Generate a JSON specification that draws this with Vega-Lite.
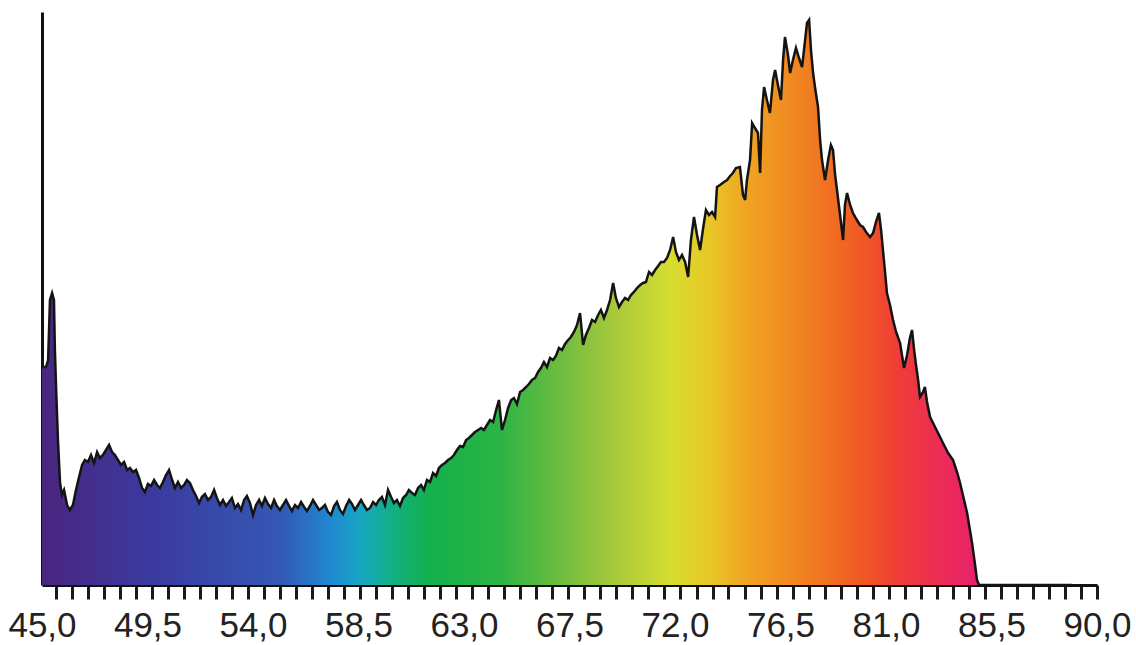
{
  "$schema": "https://vega.github.io/schema/vega-lite/v6.json",
  "width": 1055,
  "height": 573,
  "autosize": {"type": "none"},
  "padding": {"left": 42, "top": 12, "right": 39, "bottom": 60},
  "background": "white",
  "config": {"view": {"stroke": null}},
  "data": {"values": [
    {"x":45.00,"y":218},{"x":45.04,"y":218},{"x":45.17,"y":218},{"x":45.26,"y":225},{"x":45.34,"y":285},{"x":45.43,"y":292},{"x":45.51,"y":285},{"x":45.55,"y":235},{"x":45.60,"y":198},{"x":45.68,"y":145},{"x":45.77,"y":102},{"x":45.85,"y":90},{"x":45.94,"y":95},{"x":46.07,"y":80},{"x":46.19,"y":75},{"x":46.32,"y":80},{"x":46.45,"y":95},{"x":46.58,"y":108},{"x":46.71,"y":120},{"x":46.83,"y":125},{"x":46.96,"y":123},{"x":47.09,"y":130},{"x":47.22,"y":122},{"x":47.35,"y":133},{"x":47.47,"y":127},{"x":47.60,"y":130},{"x":47.73,"y":135},{"x":47.86,"y":140},{"x":47.99,"y":133},{"x":48.11,"y":130},{"x":48.24,"y":125},{"x":48.37,"y":120},{"x":48.50,"y":123},{"x":48.63,"y":115},{"x":48.75,"y":117},{"x":48.88,"y":113},{"x":49.01,"y":115},{"x":49.14,"y":107},{"x":49.27,"y":97},{"x":49.39,"y":93},{"x":49.52,"y":101},{"x":49.65,"y":99},{"x":49.78,"y":105},{"x":49.91,"y":100},{"x":50.03,"y":97},{"x":50.16,"y":103},{"x":50.29,"y":110},{"x":50.42,"y":115},{"x":50.55,"y":105},{"x":50.67,"y":97},{"x":50.80,"y":103},{"x":50.93,"y":97},{"x":51.06,"y":100},{"x":51.18,"y":105},{"x":51.31,"y":102},{"x":51.44,"y":95},{"x":51.57,"y":89},{"x":51.70,"y":82},{"x":51.82,"y":88},{"x":51.95,"y":91},{"x":52.08,"y":85},{"x":52.21,"y":88},{"x":52.34,"y":95},{"x":52.46,"y":87},{"x":52.59,"y":80},{"x":52.72,"y":85},{"x":52.85,"y":79},{"x":52.98,"y":83},{"x":53.10,"y":87},{"x":53.23,"y":77},{"x":53.36,"y":81},{"x":53.49,"y":75},{"x":53.62,"y":85},{"x":53.74,"y":89},{"x":53.87,"y":82},{"x":54.00,"y":70},{"x":54.13,"y":80},{"x":54.26,"y":85},{"x":54.38,"y":79},{"x":54.51,"y":87},{"x":54.64,"y":81},{"x":54.77,"y":77},{"x":54.90,"y":85},{"x":55.02,"y":79},{"x":55.15,"y":75},{"x":55.28,"y":80},{"x":55.41,"y":85},{"x":55.54,"y":79},{"x":55.66,"y":74},{"x":55.79,"y":80},{"x":55.92,"y":77},{"x":56.05,"y":83},{"x":56.18,"y":78},{"x":56.30,"y":74},{"x":56.43,"y":79},{"x":56.56,"y":85},{"x":56.69,"y":80},{"x":56.82,"y":75},{"x":56.94,"y":77},{"x":57.07,"y":80},{"x":57.20,"y":73},{"x":57.33,"y":70},{"x":57.46,"y":79},{"x":57.58,"y":83},{"x":57.71,"y":75},{"x":57.84,"y":71},{"x":57.97,"y":79},{"x":58.10,"y":85},{"x":58.22,"y":81},{"x":58.35,"y":75},{"x":58.48,"y":80},{"x":58.61,"y":85},{"x":58.73,"y":80},{"x":58.86,"y":75},{"x":58.99,"y":77},{"x":59.12,"y":83},{"x":59.25,"y":80},{"x":59.37,"y":85},{"x":59.50,"y":88},{"x":59.63,"y":80},{"x":59.76,"y":95},{"x":59.89,"y":88},{"x":60.01,"y":82},{"x":60.14,"y":85},{"x":60.27,"y":79},{"x":60.40,"y":87},{"x":60.53,"y":90},{"x":60.65,"y":95},{"x":60.78,"y":92},{"x":60.91,"y":90},{"x":61.04,"y":97},{"x":61.17,"y":100},{"x":61.29,"y":95},{"x":61.42,"y":105},{"x":61.55,"y":103},{"x":61.68,"y":112},{"x":61.81,"y":109},{"x":61.93,"y":117},{"x":62.06,"y":120},{"x":62.19,"y":122},{"x":62.32,"y":125},{"x":62.45,"y":127},{"x":62.57,"y":130},{"x":62.70,"y":135},{"x":62.83,"y":139},{"x":62.96,"y":138},{"x":63.09,"y":145},{"x":63.21,"y":147},{"x":63.34,"y":150},{"x":63.47,"y":153},{"x":63.60,"y":155},{"x":63.73,"y":157},{"x":63.85,"y":155},{"x":63.98,"y":160},{"x":64.11,"y":165},{"x":64.24,"y":163},{"x":64.37,"y":175},{"x":64.49,"y":185},{"x":64.62,"y":155},{"x":64.75,"y":165},{"x":64.88,"y":177},{"x":65.01,"y":185},{"x":65.13,"y":187},{"x":65.26,"y":181},{"x":65.39,"y":193},{"x":65.52,"y":195},{"x":65.65,"y":198},{"x":65.77,"y":201},{"x":65.90,"y":205},{"x":66.03,"y":207},{"x":66.16,"y":213},{"x":66.28,"y":217},{"x":66.41,"y":223},{"x":66.54,"y":218},{"x":66.67,"y":227},{"x":66.80,"y":225},{"x":66.92,"y":229},{"x":67.05,"y":237},{"x":67.18,"y":235},{"x":67.31,"y":241},{"x":67.44,"y":245},{"x":67.56,"y":248},{"x":67.69,"y":253},{"x":67.82,"y":260},{"x":67.95,"y":272},{"x":68.08,"y":240},{"x":68.20,"y":250},{"x":68.33,"y":257},{"x":68.46,"y":265},{"x":68.59,"y":263},{"x":68.72,"y":270},{"x":68.84,"y":275},{"x":68.97,"y":267},{"x":69.10,"y":275},{"x":69.23,"y":285},{"x":69.36,"y":302},{"x":69.48,"y":287},{"x":69.61,"y":278},{"x":69.74,"y":283},{"x":69.87,"y":287},{"x":70.00,"y":285},{"x":70.12,"y":290},{"x":70.25,"y":293},{"x":70.38,"y":297},{"x":70.51,"y":300},{"x":70.64,"y":302},{"x":70.76,"y":303},{"x":70.89,"y":313},{"x":71.02,"y":310},{"x":71.15,"y":315},{"x":71.28,"y":319},{"x":71.40,"y":323},{"x":71.53,"y":323},{"x":71.66,"y":327},{"x":71.79,"y":335},{"x":71.92,"y":348},{"x":72.04,"y":333},{"x":72.17,"y":325},{"x":72.30,"y":330},{"x":72.43,"y":323},{"x":72.56,"y":308},{"x":72.68,"y":345},{"x":72.81,"y":368},{"x":72.94,"y":350},{"x":73.07,"y":335},{"x":73.20,"y":357},{"x":73.32,"y":375},{"x":73.45,"y":370},{"x":73.58,"y":373},{"x":73.71,"y":368},{"x":73.79,"y":398},{"x":73.92,"y":400},{"x":74.09,"y":403},{"x":74.22,"y":405},{"x":74.35,"y":409},{"x":74.47,"y":412},{"x":74.60,"y":417},{"x":74.77,"y":418},{"x":74.90,"y":390},{"x":74.99,"y":385},{"x":75.07,"y":405},{"x":75.20,"y":425},{"x":75.29,"y":462},{"x":75.41,"y":457},{"x":75.54,"y":452},{"x":75.63,"y":412},{"x":75.71,"y":475},{"x":75.80,"y":498},{"x":75.92,"y":485},{"x":76.05,"y":472},{"x":76.18,"y":505},{"x":76.27,"y":515},{"x":76.39,"y":500},{"x":76.52,"y":485},{"x":76.61,"y":525},{"x":76.69,"y":548},{"x":76.82,"y":530},{"x":76.91,"y":512},{"x":77.03,"y":525},{"x":77.16,"y":537},{"x":77.29,"y":527},{"x":77.42,"y":518},{"x":77.55,"y":545},{"x":77.63,"y":562},{"x":77.72,"y":565},{"x":77.80,"y":535},{"x":77.89,"y":512},{"x":77.97,"y":498},{"x":78.10,"y":478},{"x":78.19,"y":445},{"x":78.27,"y":425},{"x":78.40,"y":405},{"x":78.53,"y":425},{"x":78.65,"y":440},{"x":78.74,"y":435},{"x":78.83,"y":410},{"x":78.91,"y":395},{"x":79.04,"y":370},{"x":79.17,"y":345},{"x":79.25,"y":380},{"x":79.34,"y":392},{"x":79.47,"y":380},{"x":79.59,"y":372},{"x":79.76,"y":365},{"x":79.89,"y":360},{"x":80.02,"y":358},{"x":80.15,"y":353},{"x":80.32,"y":348},{"x":80.45,"y":352},{"x":80.57,"y":363},{"x":80.70,"y":372},{"x":80.79,"y":355},{"x":80.87,"y":335},{"x":80.96,"y":313},{"x":81.04,"y":292},{"x":81.17,"y":280},{"x":81.30,"y":265},{"x":81.43,"y":253},{"x":81.60,"y":242},{"x":81.68,"y":230},{"x":81.77,"y":217},{"x":81.90,"y":230},{"x":82.02,"y":247},{"x":82.11,"y":255},{"x":82.20,"y":235},{"x":82.28,"y":220},{"x":82.37,"y":205},{"x":82.45,"y":188},{"x":82.58,"y":193},{"x":82.66,"y":198},{"x":82.75,"y":183},{"x":82.88,"y":168},{"x":83.05,"y":160},{"x":83.22,"y":152},{"x":83.43,"y":142},{"x":83.65,"y":132},{"x":83.86,"y":125},{"x":84.03,"y":113},{"x":84.16,"y":102},{"x":84.33,"y":85},{"x":84.46,"y":72},{"x":84.58,"y":55},{"x":84.67,"y":42},{"x":84.80,"y":20},{"x":84.88,"y":5},{"x":84.97,"y":0},{"x":85.50,"y":0},{"x":88.93,"y":0}
  ]},
  "encoding": {
    "x": {
      "field": "x",
      "type": "quantitative",
      "scale": {"domain": [45, 90], "nice": false, "zero": false},
      "axis": {
        "title": null,
        "grid": false,
        "values": [45, 49.5, 54, 58.5, 63, 67.5, 72, 76.5, 81, 85.5, 90.00, 89.32, 88.63, 87.95, 87.27, 86.58, 85.90, 85.22, 84.53, 83.85, 83.17, 82.48, 81.80, 81.12, 80.43, 79.75, 79.07, 78.38, 77.70, 77.02, 76.33, 75.65, 74.97, 74.28, 73.60, 72.92, 72.23, 71.55, 70.86, 70.18, 69.50, 68.81, 68.13, 67.45, 66.76, 66.08, 65.40, 64.71, 64.03, 63.35, 62.66, 61.98, 61.30, 60.61, 59.93, 59.25, 58.56, 57.88, 57.20, 56.51, 55.83, 55.15, 54.46, 53.78, 53.10, 52.41, 51.73, 51.05, 50.36, 49.68, 49.00, 48.31, 47.63, 46.95, 46.26, 45.58],
        "domainColor": "#111111",
        "domainWidth": 3,
        "tickColor": "#1a1a1a",
        "tickWidth": 3,
        "tickSize": 14,
        "tickOpacity": {"condition": {"test": "abs(datum.value/4.5 - round(datum.value/4.5)) < 0.001 && datum.value < 89.9", "value": 0}, "value": 1},
        "labelExpr": "abs(datum.value/4.5 - round(datum.value/4.5)) < 0.001 ? replace(format(datum.value, '.1f'), '.', ',') : ''",
        "labelFont": "Liberation Sans",
        "labelFontSize": 35,
        "labelColor": "#222222",
        "labelPadding": 9,
        "labelOverlap": false,
        "labelFlush": false,
        "labelBound": false
      }
    },
    "y": {
      "field": "y",
      "type": "quantitative",
      "scale": {"domain": [0, 573], "nice": false},
      "axis": {"title": null, "grid": false, "ticks": false, "labels": false, "domainColor": "#111111", "domainWidth": 3}
    }
  },
  "layer": [
    {
      "mark": {
        "type": "area",
        "interpolate": "linear",
        "color": {
          "gradient": "linear",
          "x1": 0, "y1": 0, "x2": 1, "y2": 0,
          "stops": [
            {"offset": 0, "color": "#4a2580"},
            {"offset": 0.105, "color": "#3b3a9e"},
            {"offset": 0.231, "color": "#3458b4"},
            {"offset": 0.28, "color": "#2088d0"},
            {"offset": 0.309, "color": "#18a6c4"},
            {"offset": 0.343, "color": "#12b07e"},
            {"offset": 0.377, "color": "#14b04c"},
            {"offset": 0.445, "color": "#2cb444"},
            {"offset": 0.503, "color": "#6ebc40"},
            {"offset": 0.561, "color": "#acca3a"},
            {"offset": 0.61, "color": "#d6de30"},
            {"offset": 0.649, "color": "#e8c626"},
            {"offset": 0.687, "color": "#f0a222"},
            {"offset": 0.736, "color": "#f08420"},
            {"offset": 0.794, "color": "#f05a24"},
            {"offset": 0.833, "color": "#f03c38"},
            {"offset": 0.872, "color": "#ec2c56"},
            {"offset": 0.906, "color": "#e8226a"},
            {"offset": 1, "color": "#e8226a"}
          ]
        }
      }
    },
    {
      "mark": {"type": "line", "color": "#141414", "strokeWidth": 2.5, "interpolate": "linear"}
    }
  ]
}
